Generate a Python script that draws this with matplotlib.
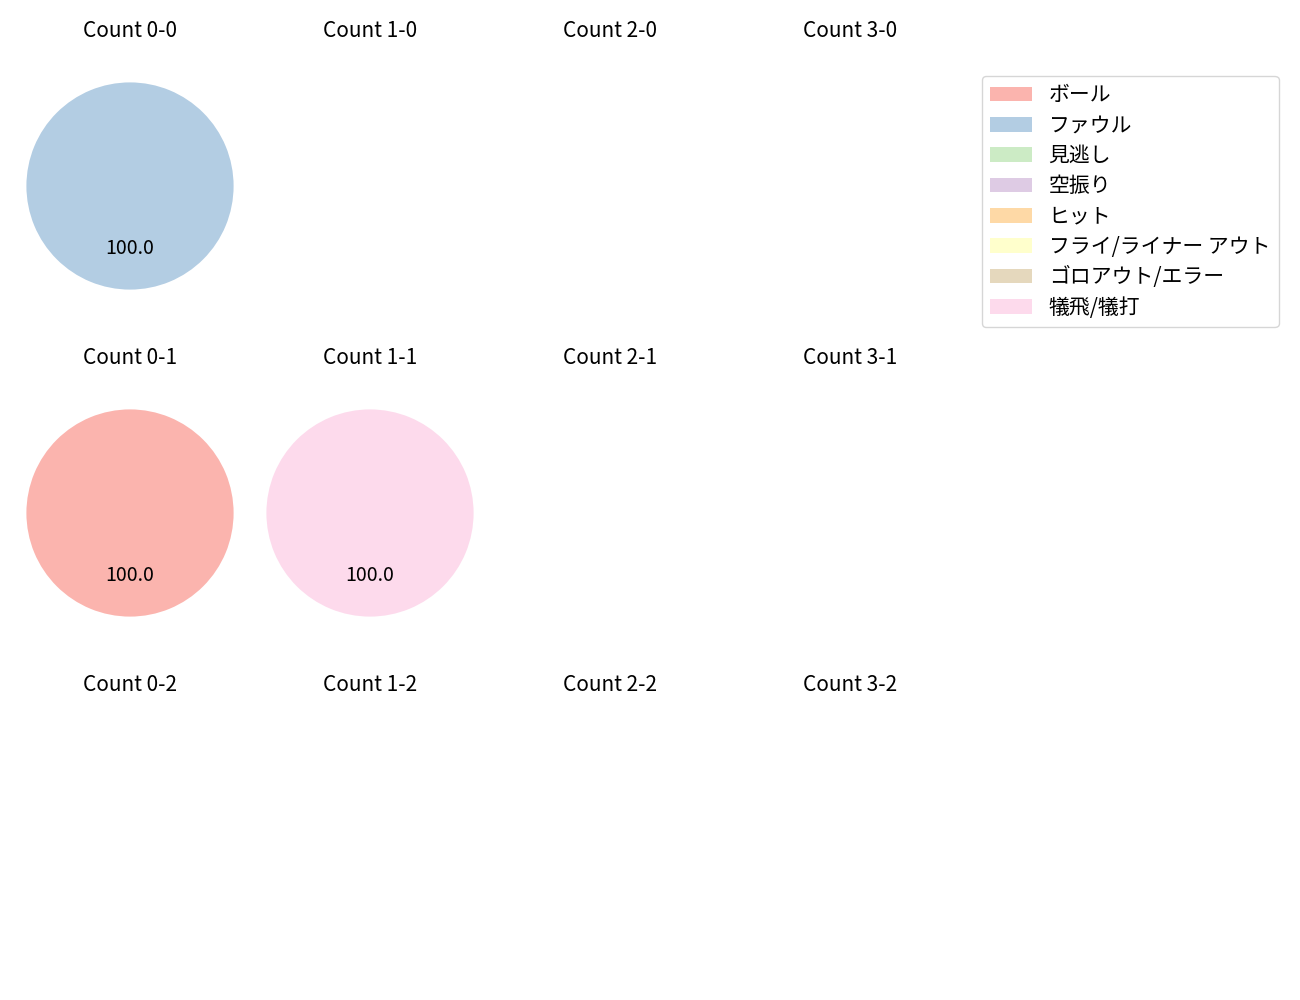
import matplotlib
matplotlib.use("Agg")
import matplotlib.pyplot as plt
from matplotlib.patches import Patch

plt.rcParams['font.family'] = ['Noto Sans CJK JP', 'DejaVu Sans']

outcomes = ['ボール', 'ファウル', '見逃し', '空振り', 'ヒット',
            'フライ/ライナー アウト', 'ゴロアウト/エラー', '犠飛/犠打']
colors = ['#fbb4ae', '#b3cde3', '#ccebc5', '#decbe4',
          '#fed9a6', '#ffffcc', '#e5d8bd', '#fddaec']

balls = [0, 1, 2, 3]
strikes = [0, 1, 2]

# outcome counts per ball-strike count, in the order of `outcomes`
counts = {
    (0, 0): [0, 1, 0, 0, 0, 0, 0, 0],
    (0, 1): [1, 0, 0, 0, 0, 0, 0, 0],
    (1, 1): [0, 0, 0, 0, 0, 0, 0, 1],
}

W, H = 1300, 1000
fig = plt.figure(figsize=(13, 10), dpi=100)

half = 144  # half size of each pie box in px
for s in strikes:
    for b in balls:
        cx = 130 + 240 * b
        cy = 186 + 327 * s
        ax = fig.add_axes([(cx - half) / W, 1 - (cy + half) / H,
                           2 * half / W, 2 * half / H])
        ax.set_title(f'Count {b}-{s}', fontsize=15, pad=3.2)
        vals = counts.get((b, s))
        if vals and sum(vals) > 0:
            nz = [(v, c) for v, c in zip(vals, colors) if v > 0]
            ax.pie([v for v, _ in nz], colors=[c for _, c in nz],
                   autopct='%.1f', startangle=90, counterclock=False,
                   textprops={'fontsize': 14})
            ax.set_xlim(-1.39, 1.39)
            ax.set_ylim(-1.39, 1.39)
        ax.axis('off')

handles = [Patch(facecolor=c, label=l) for c, l in zip(colors, outcomes)]
fig.legend(handles=handles, loc='upper left',
           bbox_to_anchor=(982 / W, 1 - 76 / H), borderaxespad=0,
           fontsize=15, labelspacing=0.40)

fig.savefig('out.png')
